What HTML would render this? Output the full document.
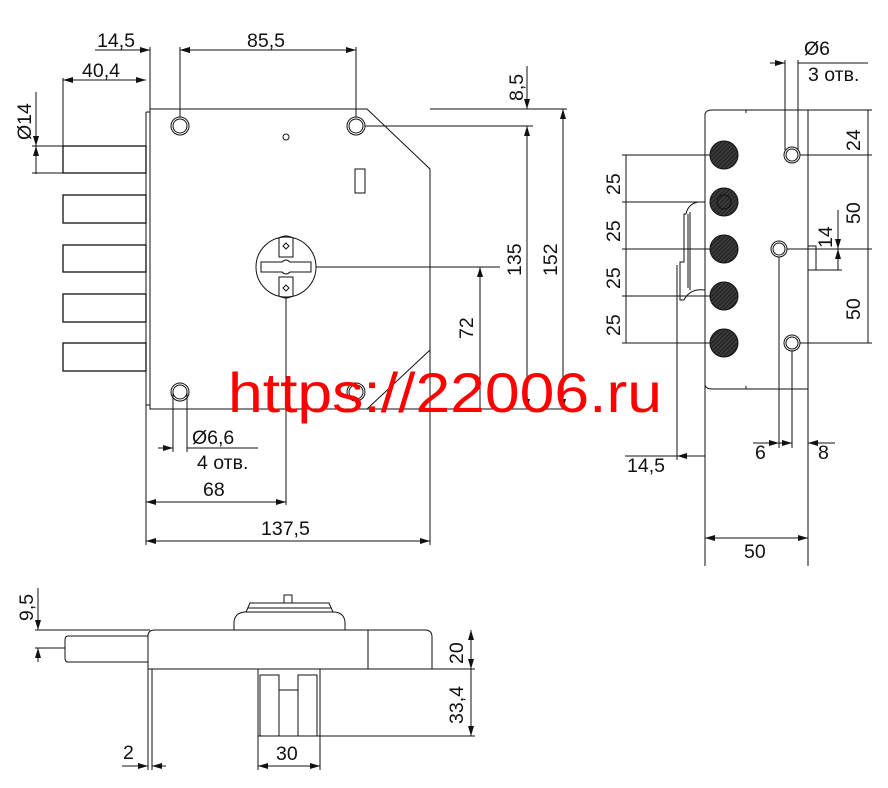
<!DOCTYPE html>
<html><head><meta charset="utf-8"><style>
html,body{margin:0;padding:0;background:#fff;}
svg{display:block;}
text{font-family:"Liberation Sans",sans-serif;font-size:19.5px;fill:#111;}
</style></head><body>
<svg width="888" height="788" viewBox="0 0 888 788" xmlns="http://www.w3.org/2000/svg">
<defs>
<marker id="a" viewBox="0 0 10 6" refX="10" refY="3" markerWidth="10" markerHeight="6" orient="auto-start-reverse" markerUnits="userSpaceOnUse"><path d="M0,0 L10,3 L0,6z" fill="#111"/></marker>
<pattern id="h" width="3" height="3" patternUnits="userSpaceOnUse" patternTransform="rotate(45)"><rect width="3" height="3" fill="#2a2a2a"/><line x1="0" y1="0" x2="0" y2="3" stroke="#555" stroke-width="1"/></pattern>
</defs>
<g fill="none" stroke="#111" stroke-width="1">
<!-- MAIN VIEW -->
<path d="M150,109 H367 L430,169 V350 L367,409 H150 Z" fill="#fff"/>
<line x1="367" y1="409" x2="567" y2="409"/>
<line x1="430" y1="109" x2="567" y2="109"/>
<path d="M146,112 V405 M146,112 H150 M146,405 H150"/>
<g stroke-width="1.3">
<rect x="63" y="146" width="83" height="27"/>
<rect x="63" y="195" width="83" height="28"/>
<rect x="63" y="245" width="83" height="27"/>
<rect x="63" y="294" width="83" height="28"/>
<rect x="63" y="343" width="83" height="28"/>
</g>
<circle cx="180" cy="126" r="9"/><circle cx="180" cy="126" r="7"/>
<circle cx="356" cy="126" r="9"/><circle cx="356" cy="126" r="7"/>
<circle cx="180" cy="392" r="9"/><circle cx="180" cy="392" r="7"/>
<circle cx="356" cy="392" r="9"/><circle cx="356" cy="392" r="7"/>
<circle cx="286" cy="137" r="3"/>
<rect x="355" y="169" width="10" height="24"/>
<circle cx="286" cy="267" r="30"/>
<path d="M279,238 Q286,234 293,238 V257 H279 Z M279,296 Q286,300 293,296 V277 H279 Z"/>
<path d="M286,243 l3,3 -3,3 -3,-3z M286,285 l3,3 -3,3 -3,-3z"/>
<path d="M261,262 H282 Q286,258 290,262 H311 V272 H290 Q286,276 282,272 H261 Z"/>
<!-- main dims -->
<line x1="150" y1="47" x2="150" y2="109"/>
<line x1="180" y1="47" x2="180" y2="117"/>
<line x1="356" y1="47" x2="356" y2="117"/>
<line x1="95" y1="50" x2="150" y2="50" marker-end="url(#a)"/>
<line x1="195" y1="50" x2="180" y2="50" marker-end="url(#a)"/>
<line x1="180" y1="50" x2="356" y2="50" marker-start="url(#a)" marker-end="url(#a)"/>
<line x1="63" y1="78" x2="63" y2="146"/>
<line x1="63" y1="80" x2="146" y2="80" marker-start="url(#a)" marker-end="url(#a)"/>
<line x1="36" y1="92" x2="36" y2="174"/>
<line x1="32" y1="146" x2="63" y2="146"/><line x1="32" y1="173" x2="63" y2="173"/>
<line x1="36" y1="128" x2="36" y2="146" marker-end="url(#a)"/>
<line x1="36" y1="173" x2="36" y2="146" marker-end="url(#a)"/>
<line x1="365" y1="126" x2="533" y2="126"/>
<line x1="527" y1="66" x2="527" y2="109" marker-end="url(#a)"/>
<line x1="527" y1="126" x2="527" y2="409" marker-start="url(#a)" marker-end="url(#a)"/>
<line x1="563" y1="109" x2="563" y2="409" marker-start="url(#a)" marker-end="url(#a)"/>
<line x1="316" y1="267" x2="500" y2="267"/>
<line x1="480" y1="267" x2="480" y2="409" marker-start="url(#a)"/>
<line x1="286" y1="297" x2="286" y2="505"/>
<line x1="146" y1="405" x2="146" y2="545"/>
<line x1="430" y1="350" x2="430" y2="545"/>
<line x1="173" y1="392" x2="173" y2="452"/><line x1="187" y1="392" x2="187" y2="452"/>
<line x1="158" y1="448" x2="173" y2="448" marker-end="url(#a)"/>
<line x1="187" y1="448" x2="258" y2="448"/>
<line x1="146" y1="502" x2="286" y2="502" marker-start="url(#a)" marker-end="url(#a)"/>
<line x1="146" y1="541" x2="430" y2="541" marker-start="url(#a)" marker-end="url(#a)"/>
<!-- RIGHT VIEW -->
<path d="M705,389 V114 Q706,110 712,110 H746 V113"/>
<path d="M705,385 Q706,389 712,389 H746 V386"/>
<line x1="746" y1="110" x2="872" y2="110"/>
<line x1="746" y1="389" x2="808" y2="389"/>
<line x1="808" y1="110" x2="808" y2="566"/>
<line x1="705" y1="389" x2="705" y2="566"/>
<path d="M705,202 H698 Q688,204 686,214 L684,214 V262 H680 V300 H684 Q690,288 705,290"/>
<path d="M688,214 V288 M690,212 V290"/>
<circle cx="724" cy="155" r="14" fill="url(#h)"/>
<circle cx="724" cy="202" r="14" fill="url(#h)"/>
<circle cx="724" cy="202" r="7"/>
<circle cx="724" cy="249" r="14" fill="url(#h)"/>
<circle cx="724" cy="296" r="14" fill="url(#h)"/>
<circle cx="724" cy="343" r="14" fill="url(#h)"/>
<circle cx="792" cy="155" r="8"/><circle cx="792" cy="155" r="6"/>
<circle cx="779" cy="249" r="8"/><circle cx="779" cy="249" r="6"/>
<circle cx="792" cy="343" r="8"/><circle cx="792" cy="343" r="6"/>
<rect x="808" y="246" width="8" height="24"/>
<line x1="622" y1="155" x2="710" y2="155"/>
<line x1="622" y1="202" x2="705" y2="202"/>
<line x1="622" y1="249" x2="710" y2="249"/>
<line x1="622" y1="296" x2="710" y2="296"/>
<line x1="622" y1="343" x2="710" y2="343"/>
<line x1="626" y1="155" x2="626" y2="343"/>
<line x1="800" y1="155" x2="872" y2="155"/>
<line x1="787" y1="249" x2="872" y2="249"/>
<line x1="800" y1="343" x2="872" y2="343"/>
<line x1="868" y1="110" x2="868" y2="343"/>
<line x1="816" y1="270" x2="842" y2="270"/>
<line x1="838" y1="210" x2="838" y2="249" marker-end="url(#a)"/>
<line x1="838" y1="249" x2="838" y2="270" marker-start="url(#a)"/>
<line x1="785" y1="60" x2="785" y2="150"/><line x1="798" y1="60" x2="798" y2="150"/>
<line x1="770" y1="63" x2="785" y2="63" marker-end="url(#a)"/>
<line x1="798" y1="63" x2="868" y2="63"/>
<line x1="779" y1="257" x2="779" y2="448"/>
<line x1="792" y1="351" x2="792" y2="448"/>
<line x1="753" y1="443" x2="779" y2="443" marker-end="url(#a)"/>
<line x1="779" y1="443" x2="792" y2="443" marker-end="url(#a)"/>
<line x1="835" y1="443" x2="808" y2="443" marker-end="url(#a)"/>
<line x1="677" y1="265" x2="677" y2="460"/>
<line x1="625" y1="456" x2="705" y2="456"/>
<line x1="690" y1="456" x2="677" y2="456" marker-end="url(#a)"/>
<line x1="705" y1="538" x2="808" y2="538" marker-start="url(#a)" marker-end="url(#a)"/>
<!-- BOTTOM VIEW -->
<path d="M148,669 V636 Q148,630 155,630 H425 Q432,630 432,637 V669 Z"/>
<line x1="368" y1="630" x2="368" y2="669"/>
<path d="M148,636 H68 Q65,636 65,640 V658 Q65,662 68,662 H148"/>
<path d="M234,630 V622 Q235,612 246,612 H333 Q344,612 345,622 V630"/>
<path d="M246,612 L250,603 H329 L333,612 M248,608 H331"/>
<rect x="284" y="595" width="8" height="8"/>
<rect x="258" y="669" width="62" height="67"/>
<path d="M260,736 V675 H279 V736 M298,736 V675 H317 V736 M279,690 H298"/>
<path d="M148,669 V770 M152,669 V770"/>
<line x1="35" y1="630" x2="150" y2="630"/>
<line x1="35" y1="648" x2="65" y2="648"/>
<line x1="38" y1="588" x2="38" y2="630" marker-end="url(#a)"/>
<line x1="38" y1="662" x2="38" y2="648" marker-end="url(#a)"/>
<line x1="432" y1="669" x2="475" y2="669"/>
<line x1="320" y1="736" x2="475" y2="736"/>
<line x1="471" y1="630" x2="471" y2="669" marker-start="url(#a)" marker-end="url(#a)"/>
<line x1="471" y1="669" x2="471" y2="736" marker-end="url(#a)"/>
<line x1="122" y1="766" x2="148" y2="766" marker-end="url(#a)"/>
<line x1="166" y1="766" x2="152" y2="766" marker-end="url(#a)"/>
<line x1="258" y1="736" x2="258" y2="770"/><line x1="320" y1="736" x2="320" y2="770"/>
<line x1="258" y1="766" x2="320" y2="766" marker-start="url(#a)" marker-end="url(#a)"/>
</g>
<!-- labels -->
<text x="97" y="47">14,5</text>
<text x="247" y="47">85,5</text>
<text x="82" y="77">40,4</text>
<text transform="translate(31,140) rotate(-90)">Ø14</text>
<text transform="translate(523,101) rotate(-90)">8,5</text>
<text transform="translate(521,276) rotate(-90)">135</text>
<text transform="translate(557,276) rotate(-90)">152</text>
<text transform="translate(473,339) rotate(-90)">72</text>
<text x="192" y="444">Ø6,6</text>
<text x="197" y="469">4 отв.</text>
<text x="203" y="496">68</text>
<text x="261" y="535">137,5</text>
<text x="804" y="55">Ø6</text>
<text x="808" y="81">3 отв.</text>
<text transform="translate(620,195) rotate(-90)">25</text>
<text transform="translate(620,242) rotate(-90)">25</text>
<text transform="translate(620,289) rotate(-90)">25</text>
<text transform="translate(620,336) rotate(-90)">25</text>
<text transform="translate(860,151) rotate(-90)">24</text>
<text transform="translate(860,224) rotate(-90)">50</text>
<text transform="translate(860,320) rotate(-90)">50</text>
<text transform="translate(832,248) rotate(-90)">14</text>
<text x="755" y="459">6</text>
<text x="818" y="459">8</text>
<text x="627" y="472">14,5</text>
<text x="744" y="558">50</text>
<text transform="translate(33,621) rotate(-90)">9,5</text>
<text transform="translate(463,664) rotate(-90)">20</text>
<text transform="translate(463,724) rotate(-90)">33,4</text>
<text x="123" y="759">2</text>
<text x="276" y="760">30</text>
<text x="228" y="412" textLength="434" lengthAdjust="spacingAndGlyphs" style="font-size:56px;fill:#ff0000">https://22006.ru</text>
</svg>
</body></html>
